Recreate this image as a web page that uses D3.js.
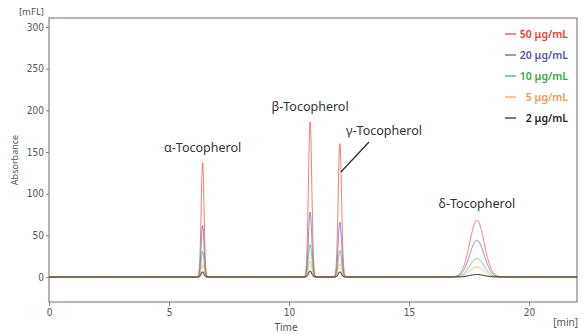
<!DOCTYPE html>
<html>
<head>
<meta charset="utf-8">
<script src="https://cdn.jsdelivr.net/npm/d3@7"></script>
<style>
  body { margin: 0; background: #fff; }
  svg { font-family: "Noto Sans", "Open Sans", sans-serif; }
</style>
</head>
<body>
<div id="chart"></div>
<script>
// peaks (retention time in min, width sigma in min)
const peakNames = ["α-Tocopherol", "β-Tocopherol", "γ-Tocopherol", "δ-Tocopherol"];
const peakTimes = [6.40, 10.88, 12.12, 17.83];
const peakWidths = [0.06, 0.07, 0.07, 0.30];

// concentrations and the peak heights [mFL] for each one
const seriesNames = ["50 μg/mL", "20 μg/mL", "10 μg/mL", "5 μg/mL", "2 μg/mL"];
const seriesColors = ["#ee3b2f", "#5552b0", "#3aa845", "#f59a4c", "#222222"];
const heights50 = [137, 186, 160, 68];
const heights20 = [62, 78, 66, 44];
const heights10 = [31, 39, 32, 22];
const heights5 = [15, 19, 16, 12];
const heights2 = [6, 7, 6, 3];
const allHeights = [heights50, heights20, heights10, heights5, heights2];

const xTicks = [0, 5, 10, 15, 20];
const yTicks = [0, 50, 100, 150, 200, 250, 300];

const W = 584, H = 334;
const mLeft = 49, mTop = 18, mRight = 577, mBottom = 302;

const svg = d3.select("#chart").append("svg")
    .attr("width", W)
    .attr("height", H);

const x = d3.scaleLinear().domain([0, 22]).range([mLeft, mRight]);
const y = d3.scaleLinear().domain([-30, 310.8]).range([mBottom, mTop]);

// plot frame
svg.append("rect")
    .attr("x", mLeft).attr("y", mTop)
    .attr("width", mRight - mLeft).attr("height", mBottom - mTop)
    .attr("fill", "none")
    .attr("stroke", "#8d8280")
    .attr("stroke-width", 1.2);

// axes
const yAxis = svg.append("g")
    .attr("transform", `translate(${mLeft},0)`)
    .call(d3.axisLeft(y).tickValues(yTicks).tickSize(3).tickPadding(2));
const xAxis = svg.append("g")
    .attr("transform", `translate(0,${mBottom})`)
    .call(d3.axisBottom(x).tickValues(xTicks).tickSize(4).tickPadding(3));

[yAxis, xAxis].forEach(a => {
    a.select(".domain").remove();
    a.selectAll("line").attr("stroke", "#8d8280");
    a.selectAll("text")
        .attr("fill", "#555")
        .style("font-size", "10px")
        .style("font-family", "'DejaVu Sans Condensed', 'Noto Sans', sans-serif");
});

// axis titles
svg.append("text")
    .attr("x", 44).attr("y", 15)
    .attr("text-anchor", "end")
    .attr("fill", "#555")
    .style("font-size", "9.5px")
    .text("[mFL]");
svg.append("text")
    .attr("transform", "translate(18,160) rotate(-90)")
    .attr("text-anchor", "middle")
    .attr("fill", "#555")
    .style("font-size", "9px")
    .text("Absorbance");
svg.append("text")
    .attr("x", 286).attr("y", 331)
    .attr("text-anchor", "middle")
    .attr("fill", "#555")
    .style("font-size", "10px")
    .text("Time");
svg.append("text")
    .attr("x", 578).attr("y", 326)
    .attr("text-anchor", "end")
    .attr("fill", "#555")
    .style("font-size", "10px")
    .text("[min]");

// chromatogram traces built from the peak table
const times = d3.range(0, 22.0001, 0.01);
function trace(h) {
    return times.map(t => {
        let v = 0;
        peakTimes.forEach((rt, i) => {
            const d = (t - rt) / peakWidths[i];
            v += h[i] * Math.exp(-0.5 * d * d);
        });
        return [t, v];
    });
}

const line = d3.line()
    .x(d => x(d[0]))
    .y(d => y(d[1]));

allHeights.forEach((h, i) => {
    svg.append("path")
        .datum(trace(h))
        .attr("fill", "none")
        .attr("stroke", seriesColors[i])
        .attr("stroke-width", i === 4 ? 1.2 : 1)
        .attr("stroke-opacity", i === 4 ? 0.75 : 0.65)
        .attr("d", line);
});

// peak labels
const labelDy = [-11, -11, null, -12];
peakNames.forEach((name, i) => {
    if (i === 2) return;
    svg.append("text")
        .attr("x", x(peakTimes[i]))
        .attr("y", y(heights50[i]) + labelDy[i])
        .attr("text-anchor", "middle")
        .attr("fill", "#333")
        .style("font-size", "12.5px")
        .text(name);
});
// gamma label sits off to the right with a leader line
svg.append("text")
    .attr("x", 384).attr("y", 135)
    .attr("text-anchor", "middle")
    .attr("fill", "#333")
    .style("font-size", "12.5px")
    .text(peakNames[2]);
svg.append("line")
    .attr("x1", 369).attr("y1", 142)
    .attr("x2", x(peakTimes[2]) + 1).attr("y2", 172)
    .attr("stroke", "#222")
    .attr("stroke-width", 1.1);

// legend
const legend = svg.append("g");
seriesNames.forEach((name, i) => {
    const ly = 34 + i * 21;
    legend.append("line")
        .attr("x1", 505).attr("x2", 516)
        .attr("y1", ly).attr("y2", ly)
        .attr("stroke", seriesColors[i])
        .attr("stroke-width", 1.2);
    legend.append("text")
        .attr("x", 568).attr("y", ly + 4)
        .attr("text-anchor", "end")
        .attr("fill", seriesColors[i])
        .style("font-size", "10.5px")
        .style("font-weight", "600")
        .text(name);
});
</script>
</body>
</html>
